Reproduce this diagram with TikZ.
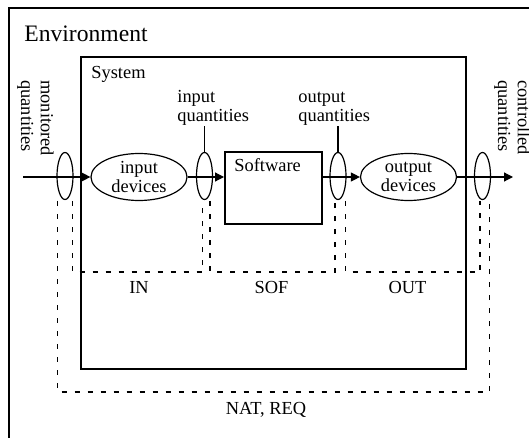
\documentclass[tikz,border=0pt]{standalone}
\usepackage{fontspec}
\setmainfont{Liberation Serif}
\usetikzlibrary{shapes.geometric,arrows.meta}

\begin{document}
\begin{tikzpicture}[x=0.5pt, y=-0.5pt,
  lbl/.style={font=\fontsize{9.2}{9.8}\selectfont, align=left, inner sep=0pt},
  qring/.style={draw, ellipse, line width=0.6pt, minimum width=8pt, minimum height=23.5pt, inner sep=0pt},
  device/.style={draw, ellipse, line width=0.6pt, minimum width=48pt, minimum height=23.5pt,
    inner sep=0pt, align=center, font=\fontsize{9.2}{9.8}\selectfont},
  flow/.style={line width=0.6pt, -{Triangle[length=4.5pt,width=4.5pt]}},
  region/.style={line width=0.6pt, dash pattern=on 2.5pt off 4pt}]

  %% Rahmen
  \useasboundingbox (0,0) rectangle (529,438);
  \clip (0,0) rectangle (529,438);
  \draw[line width=0.6pt] (9,8) rectangle (600,500);
  \node[font=\fontsize{11.8}{14}\selectfont, anchor=base west, inner sep=0pt] (env) at (24,42) {Environment};

  %% System und Software
  \draw[line width=1.3pt] (81,57) rectangle (466,369);
  \node[lbl, anchor=base west] (sysname) at (91,79) {System};
  \node[draw, line width=1pt, minimum width=48.5pt, minimum height=36pt, inner sep=0pt] (sw) at (273.5,188) {};
  \node[lbl, anchor=base west] (swname) at ([shift={(10,20)}]sw.north west) {Software};

  %% Geraete
  \node[device] (indev) at (139,177) {input\\devices};
  \node[device] (outdev) at (408.5,177) {output\\devices};

  %% Groessen
  \node[qring] (q1) at (65,176) {};
  \node[qring] (q2) at (204.5,176) {};
  \node[qring] (q3) at (338,176) {};
  \node[qring] (q4) at (482.5,176) {};
  \coordinate (mq) at (23,177);
  \coordinate (cq) at (513,177);

  \node[lbl, rotate=-90, anchor=north west] (mqname) at (54,80) {monitored\\quantities};
  \node[lbl, rotate=-90, anchor=north west] (cqname) at (531,80) {controlled\\quantities};
  \node[lbl, anchor=south west] (iq) at (177,126) {input\\quantities};
  \node[lbl, anchor=south west] (oq) at (298,126) {output\\quantities};
  \draw[line width=0.6pt] (q2.north) -- (q2.north |- iq.south);
  \draw[line width=0.6pt] (q3.north) -- (q3.north |- oq.south);

  %% Fluss
  \draw[flow] (mq) -- (indev.west);
  \draw[flow] (indev.east) -- (indev.east -| sw.west);
  \draw[flow] (outdev.west -| sw.east) -- (outdev.west);
  \draw[flow] (outdev.east) -- (cq);

  %% Bereiche (gestrichelt)
  \draw[region] (72.5,201) -- (72.5,272) -- (202.5,272) -- (202.5,201);
  \draw[region] (210,201) -- (210,272) -- (335,272) -- (335,201);
  \draw[region] (345.5,201) -- (345.5,272) -- (480,272) -- (480,201);
  \draw[region] (57.5,201) -- (57.5,392) -- (489.5,392) -- (489.5,201);
  \node[lbl] (inname) at (139,287) {IN};
  \node[lbl] (sofname) at (271.5,287) {SOF};
  \node[lbl] (outname) at (407.5,287) {OUT};
  \node[lbl] (natname) at (266,410) {NAT, REQ};
\end{tikzpicture}
\end{document}
